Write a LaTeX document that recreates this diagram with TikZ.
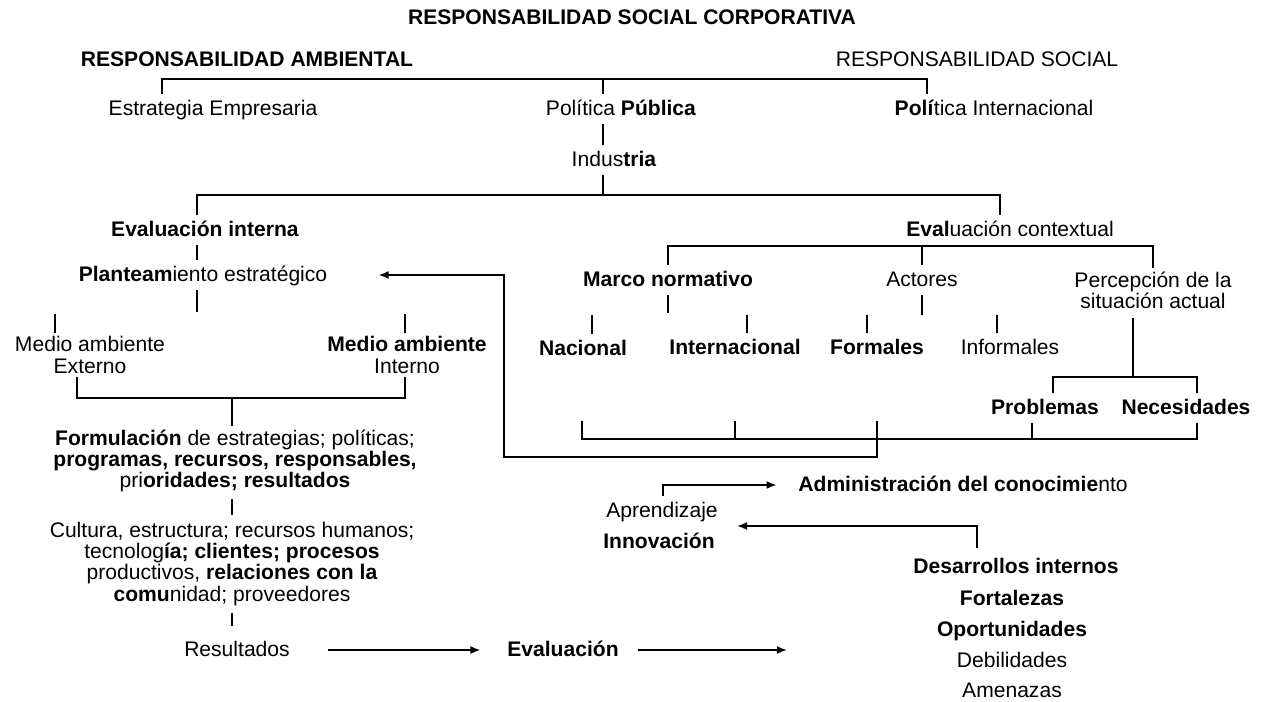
\documentclass[tikz,border=0pt]{standalone}
\usepackage{fontspec}
\setmainfont{Liberation Sans}
\usetikzlibrary{positioning, arrows.meta, calc}
\tikzset{every node/.append style={execute at begin node={\hyphenpenalty=10000\exhyphenpenalty=10000\relax}}}

\begin{document}
\begin{tikzpicture}[x=0.02cm, y=-0.02cm, font=\fontsize{12}{12}\selectfont,
  every node/.append style={inner sep=2pt, text height=1.9ex, text depth=0.5ex},
  varias/.style={align=center, text height={}, text depth={}},
  linea/.style={line width=1pt},
  hueco/.style={linea, shorten <=2pt, shorten >=2pt},
  flecha/.style={line width=1pt, -{Latex[length=2mm, width=1.6mm]}}]
  \useasboundingbox (0,0) rectangle (1264,702);

  \node (rsc) at (632,18) {\textbf{RESPONSABILIDAD SOCIAL CORPORATIVA}};
  \node (ramb) at (247,60) {\textbf{RESPONSABILIDAD AMBIENTAL}};
  \node (rsoc) at (977,60) {RESPONSABILIDAD SOCIAL};

  \node (estr) at (213,109) {Estrategia Empresaria};
  \node (ppub) at (621,109) {Política \textbf{Pública}};
  \node (pint) at (994,109) {\textbf{Polí}tica Internacional};
  \node (ind) at (614,160) {Indus\textbf{tria}};
  \coordinate (a1) at (162,79);
  \coordinate (a2) at (603,79);
  \coordinate (a3) at (927,79);
  \draw[linea] (estr.north -| a1) -- (a1) -- (a3) -- (pint.north -| a3);
  \draw[linea] (a2) -- (ppub.north -| a2);
  \draw[linea] (ppub.south -| a2) -- (ind.north -| a2);

  \node (eint) at (205,230) {\textbf{Evaluación interna}};
  \node (ectx) at (1010,230) {\textbf{Eval}uación contextual};
  \coordinate (b1) at (197,195);
  \coordinate (b2) at (603,195);
  \coordinate (b3) at (1000,195);
  \draw[linea] (ind.south -| b2) -- (b2);
  \draw[linea] (eint.north -| b1) -- (b1) -- (b3) -- (ectx.north -| b3);

  \node (plan) at (203,275) {\textbf{Planteam}iento estratégico};
  \coordinate (c1) at (197,312);
  \draw[linea] (eint.south -| b1) -- (plan.north -| b1);
  \draw[linea] (plan.south -| b1) -- (c1);
  \node[varias] (mext) at (90,355) {Medio ambiente\\Externo};
  \node[varias] (mint) at (407,355) {\textbf{Medio ambiente}\\Interno};
  \coordinate (c2) at (55,314);
  \coordinate (c3) at (405,314);
  \draw[linea] (c2) -- (mext.north -| c2);
  \draw[linea] (c3) -- (mint.north -| c3);
  \coordinate (d1) at (77,398);
  \coordinate (d2) at (232,398);
  \coordinate (d3) at (405,398);
  \draw[linea] (mext.south -| d1) -- (d1) -- (d3) -- (mint.south -| d3);

  \node[varias] (form) at (235,461) {\textbf{Formulación} de estrategias; políticas;\\
    \textbf{programas, recursos, responsables,}\\pri\textbf{oridades; resultados}};
  \node[varias] (cult) at (232,564) {Cultura, estructura; recursos humanos;\\
    tecnolog\textbf{ía; clientes; procesos}\\productivos, \textbf{relaciones con la}\\
    \textbf{comu}nidad; proveedores};
  \node (res) at (237,650) {Resultados};
  \node (evl) at (563,650) {\textbf{Evaluación}};
  \coordinate (e1) at (787,650);
  \draw[linea] (d2) -- (form.north -| d2);
  \draw[hueco] (form.south -| d2) -- (cult.north -| d2);
  \draw[hueco, shorten >=5pt] (cult.south -| d2) -- (res.north -| d2);
  \draw[flecha, shorten <=0.68cm, shorten >=0.46cm] (res) -- (evl);
  \draw[flecha, shorten <=0.3cm] (evl) -- (e1);

  \node (marco) at (668,280) {\textbf{Marco normativo}};
  \node (act) at (922,280) {Actores};
  \node[varias] (perc) at (1153,290) {Percepción de la\\situación actual};
  \coordinate (f1) at (668,246);
  \coordinate (f2) at (922,246);
  \coordinate (f3) at (1153,246);
  \draw[linea] (marco.north -| f1) -- (f1) -- (f3) -- (perc.north -| f3);
  \draw[linea] (f2) -- (act.north -| f2);
  \draw[linea] (marco.south -| f1) -- ++(0,18);
  \draw[linea] (act.south -| f2) -- ++(0,20);

  \node (nac) at (583,349) {\textbf{Nacional}};
  \node (inter) at (735,348) {\textbf{Internacional}};
  \node (formal) at (877,348) {\textbf{Formales}};
  \node (infor) at (1010,348) {Informales};
  \coordinate (g1) at (592,315);
  \coordinate (g2) at (747,315);
  \coordinate (g3) at (867,315);
  \coordinate (g4) at (997,315);
  \draw[linea] (g1) -- (nac.north -| g1);
  \draw[linea] (g2) -- (inter.north -| g2);
  \draw[linea] (g3) -- (formal.north -| g3);
  \draw[linea] (g4) -- (infor.north -| g4);

  \node (prob) at (1045,408) {\textbf{Problemas}};
  \node (nec) at (1186,408) {\textbf{Necesidades}};
  \coordinate (h1) at (1133,377);
  \coordinate (h2) at (1053,377);
  \coordinate (h3) at (1197,377);
  \draw[linea, shorten <=3pt] (perc.south -| h1) -- (h1);
  \draw[linea] (prob.north -| h2) -- (h2) -- (h3) -- (nec.north -| h3);

  \coordinate (k1) at (582,439);
  \coordinate (k2) at (735,439);
  \coordinate (k3) at (877,439);
  \coordinate (k4) at (1032,439);
  \coordinate (k5) at (1197,439);
  \coordinate (m1) at (504,457);
  \draw[linea] (k1) ++(0,-18) -- (k1) -- (k5) -- (nec.south -| k5);
  \draw[linea] (k2) -- ++(0,-18);
  \draw[linea] (prob.south -| k4) -- (k4);
  \draw[flecha, shorten >=0.95cm] (k3) ++(0,-18) |- (m1) |- (plan.east);

  \node (adm) at (963,485) {\textbf{Administración del conocimie}nto};
  \node (apr) at (662,511) {Aprendizaje};
  \node (inn) at (659,542) {\textbf{Innovación}};
  \node (des) at (1016,567) {\textbf{Desarrollos internos}};
  \node (fort) at (1012,599) {\textbf{Fortalezas}};
  \node (opor) at (1012,630) {\textbf{Oportunidades}};
  \node (debi) at (1012,661) {Debilidades};
  \node (amen) at (1012,691) {Amenazas};
  \coordinate (n1) at (663,485);
  \coordinate (n2) at (977,526);
  \coordinate (n3) at (737,526);
  \draw[flecha, shorten >=0.36cm] (apr.north -| n1) |- (adm.west);
  \draw[flecha, shorten <=2pt] (des.north -| n2) -- (n2) -- (n3);
\end{tikzpicture}
\end{document}
